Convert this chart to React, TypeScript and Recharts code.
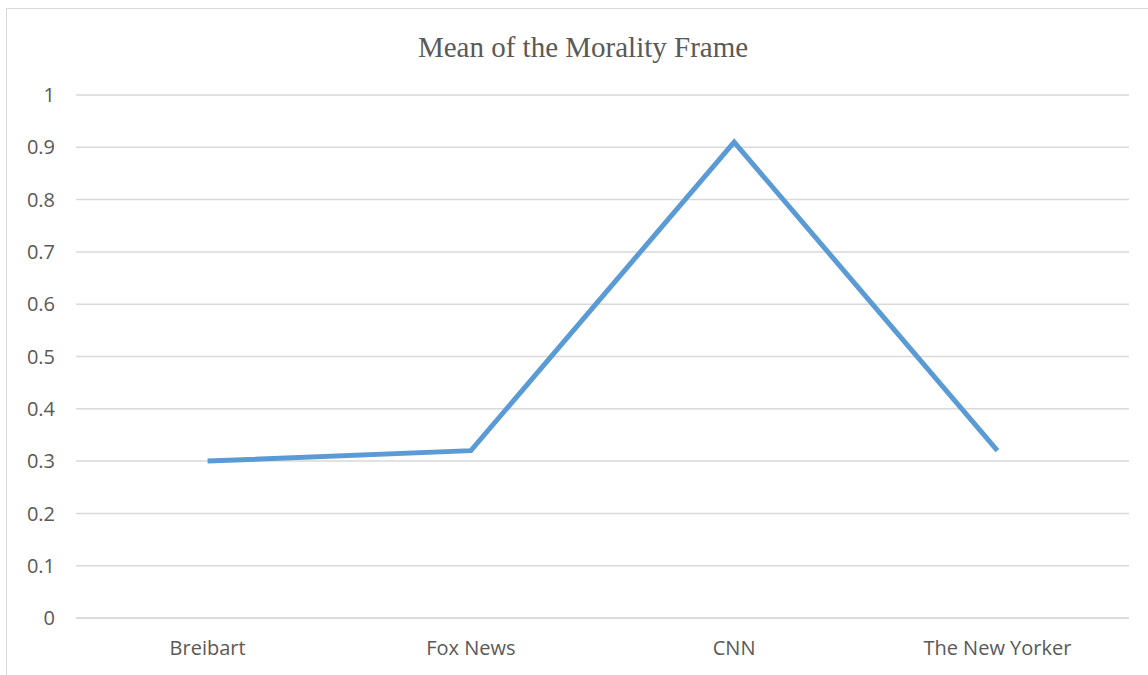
import { LineChart, Line, XAxis, YAxis, CartesianGrid } from 'recharts';

const outlets = ['Breibart', 'Fox News', 'CNN', 'The New Yorker'];
const moralityMean = [0.3, 0.32, 0.91, 0.32];
const yTicks = [0, 0.1, 0.2, 0.3, 0.4, 0.5, 0.6, 0.7, 0.8, 0.9, 1];

const chartData = outlets.map((name, i) => ({ name, value: moralityMean[i] }));

const labelFont = '"Open Sans", "Noto Sans", sans-serif';

export default function App() {
  return (
    <div
      style={{
        position: 'absolute',
        left: 6,
        top: 8,
        width: 1150,
        height: 678,
        border: '1px solid #d9d9d9',
        background: '#fff',
      }}
    >
      <div
        style={{
          position: 'absolute',
          left: 0,
          top: 22,
          width: 1152,
          textAlign: 'center',
          fontFamily: '"Liberation Serif", "Times New Roman", serif',
          fontSize: 29,
          color: '#595959',
        }}
      >
        Mean of the Morality Frame
      </div>
      <LineChart
        width={1150}
        height={678}
        data={chartData}
        margin={{ top: 86, right: 28, bottom: 39, left: 0 }}
      >
        <CartesianGrid vertical={false} stroke="#d9d9d9" strokeWidth={1.5} />
        <XAxis
          dataKey="name"
          axisLine={{ stroke: '#d9d9d9', strokeWidth: 1.5 }}
          tickLine={false}
          tickSize={0}
          tickMargin={23}
          padding={{ left: 131.6, right: 131.6 }}
          tick={{ fill: '#595959', fontSize: 20, fontFamily: labelFont }}
        />
        <YAxis
          width={69}
          domain={[0, 1]}
          ticks={yTicks}
          axisLine={false}
          tickLine={false}
          tickSize={0}
          tickMargin={21}
          tick={{ fill: '#595959', fontSize: 20, fontFamily: labelFont }}
        />
        <Line
          type="linear"
          dataKey="value"
          stroke="#5b9bd5"
          strokeWidth={5}
          dot={false}
          activeDot={false}
          isAnimationActive={false}
        />
      </LineChart>
    </div>
  );
}
